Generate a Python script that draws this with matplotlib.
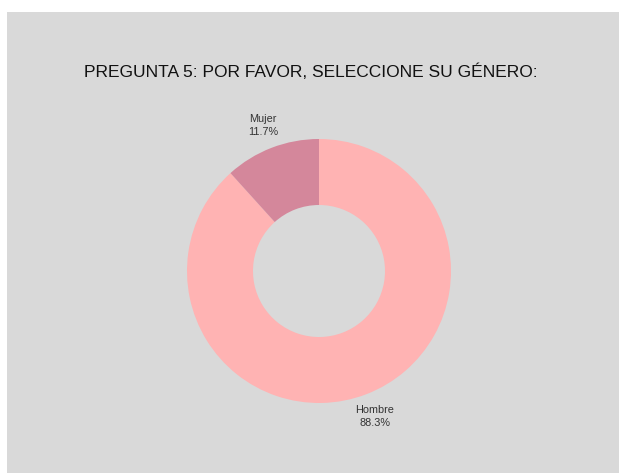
import matplotlib
matplotlib.use("Agg")
import matplotlib.pyplot as plt
from matplotlib.patches import Rectangle
import numpy as np

# data
labels = ["Hombre", "Mujer"]
shares = [88.3, 11.7]
colors = ["#ffb3b3", "#d4879b"]
title = "PREGUNTA 5: POR FAVOR, SELECCIONE SU GÉNERO:"

fig = plt.figure(figsize=(6.19, 4.74), dpi=100)
fig.patch.set_facecolor("white")

# gray card behind the chart
fig.patches.append(Rectangle((7 / 619, 1 / 474), 612 / 619, 461 / 474,
                             transform=fig.transFigure, facecolor="#d9d9d9",
                             edgecolor="none", zorder=-5))

fig.text(0.502, 1 - 72 / 474, title, ha="center", va="center", fontsize=12.5,
         family=["Liberation Sans", "DejaVu Sans"], color="#111111")

# donut axes, center at (319, 271) px, radius 132 px
ax = fig.add_axes([(319 - 132) / 619, (474 - 271 - 132) / 474, 264 / 619, 264 / 474])

wedges, _ = ax.pie(shares, colors=colors, startangle=90, counterclock=False,
                   radius=1, wedgeprops=dict(width=0.5, edgecolor="none"))
ax.set_xlim(-1, 1)
ax.set_ylim(-1, 1)
ax.axis("off")

# labels placed outside each wedge
for w, lab, val in zip(wedges, labels, shares):
    ang = np.deg2rad((w.theta1 + w.theta2) / 2)
    x, y = 1.18 * np.cos(ang), 1.18 * np.sin(ang)
    ax.text(x, y, f"{lab}\n{val}%", ha="center", va="center", fontsize=7.8,
            color="#333333", linespacing=1.4, clip_on=False,
            family=["Liberation Sans", "DejaVu Sans"])

fig.savefig("out.png", dpi=100, facecolor=fig.get_facecolor())
